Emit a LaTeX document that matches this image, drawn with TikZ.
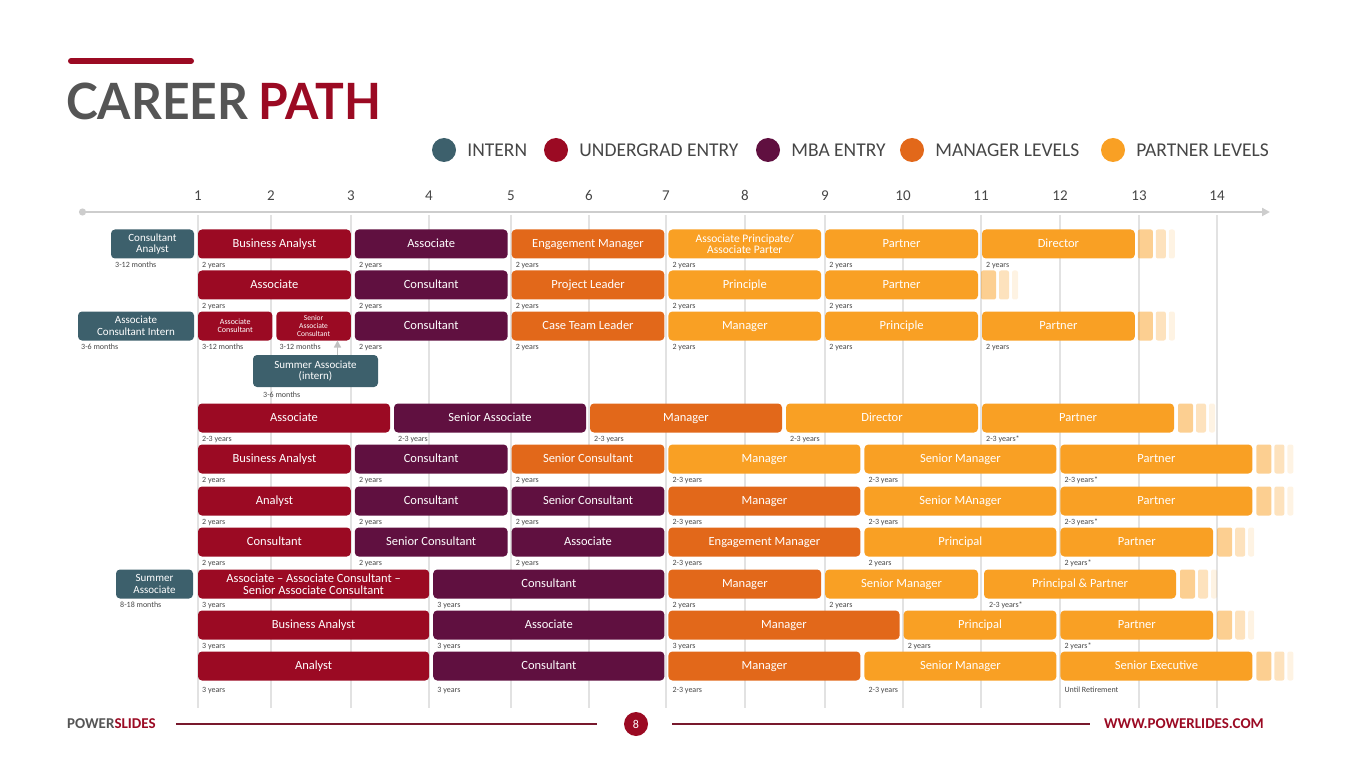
\documentclass[tikz,border=0pt]{standalone}
\usepackage{fontspec}
\setmainfont{Carlito}
\newfontfamily\titlefont{Lato}[FakeStretch=0.96]
\usepackage{xcolor}
\usetikzlibrary{positioning,arrows.meta}

\definecolor{internTeal}{RGB}{61,96,108}
\definecolor{ugRed}{RGB}{155,10,35}
\definecolor{mbaPurple}{RGB}{96,16,64}
\definecolor{mgrOrange}{RGB}{226,104,26}
\definecolor{ptnAmber}{RGB}{249,160,36}
\definecolor{gridGray}{RGB}{226,226,226}
\definecolor{axisGray}{RGB}{205,205,205}
\definecolor{textGray}{RGB}{70,70,70}
\definecolor{titleGray}{RGB}{85,85,85}
\definecolor{footRed}{RGB}{120,25,45}

\begin{document}
\begin{tikzpicture}[x=1pt, y=-1pt, font=\fontsize{12.5}{13}\selectfont,
  role/.style={rounded corners=4pt, minimum height=29pt, inner sep=0pt, outer sep=0pt, text=white, align=center, anchor=west, text height=8.5pt, text depth=1pt},
  multi/.style={text height={}, text depth={}},
  ug/.style={role, fill=ugRed}, mba/.style={role, fill=mbaPurple},
  mgr/.style={role, fill=mgrOrange}, ptn/.style={role, fill=ptnAmber},
  itn/.style={role, multi, fill=internTeal, font=\fontsize{11}{11.5}\selectfont},
  one/.style={minimum width=74.4pt}, two/.style={minimum width=152.8pt},
  twohalf/.style={minimum width=192pt}, three/.style={minimum width=231.2pt},
  dur/.style={font=\fontsize{8}{8}\selectfont, text=textGray, inner sep=0pt, text height=6pt, text depth=1.5pt},
  fadeA/.style={fill=ptnAmber, fill opacity=.5, minimum width=15pt, minimum height=29pt, inner sep=0pt, outer sep=0pt, rounded corners=2pt},
  fadeB/.style={fadeA, fill opacity=.3, minimum width=10pt},
  fadeC/.style={fadeA, fill opacity=.13, minimum width=6pt},
  dot/.style={circle, minimum size=24pt, inner sep=0pt},
  legend/.style={font=\fontsize{19.5}{19.5}\selectfont, text=textGray, inner sep=0pt, anchor=west},
  year/.style={font=\fontsize{15}{15}\selectfont, text=textGray, inner sep=0pt, text height=10.5pt, text depth=0pt},
  grid/.style={gridGray, line width=1.6pt},
  footline/.style={footRed, line width=1.2pt}]

\useasboundingbox (0,0) rectangle (1365,767);

% title
\draw[ugRed, line width=6pt, line cap=round] (71,61) -- (191,61);
\node[anchor=base west, inner sep=0pt] (title) at (66,120) {\titlefont\bfseries\fontsize{50}{50}\selectfont\textcolor{titleGray}{CAREER}\hspace{10pt}\textcolor{ugRed}{PATH}};

% legend
\node[dot, fill=internTeal] (lg1) at (444,150) {};
\node[legend, right=11pt of lg1] (lt1) {INTERN};
\node[dot, fill=ugRed] (lg2) at (556,150) {};
\node[legend, right=11pt of lg2] (lt2) {UNDERGRAD ENTRY};
\node[dot, fill=mbaPurple] (lg3) at (768,150) {};
\node[legend, right=11pt of lg3] (lt3) {MBA ENTRY};
\node[dot, fill=mgrOrange] (lg4) at (912,150) {};
\node[legend, right=11pt of lg4] (lt4) {MANAGER LEVELS};
\node[dot, fill=ptnAmber] (lg5) at (1113,150) {};
\node[legend, right=11pt of lg5] (lt5) {PARTNER LEVELS};

% years axis and grid
\foreach \n/\x in {1/198,2/271,3/351,4/429,5/511,6/589,7/666,8/745,9/825,10/903,11/981,12/1060,13/1139,14/1217}{
  \draw[grid] (\x,215) -- (\x,708);
  \node[year] (yr\n) at (\x,195) {\n};
}
\draw[axisGray, line width=2pt, {Circle[length=7pt]}-{Triangle[length=8pt,width=8pt]}] (79,212) -- (1270,212);

% row 1
\node[ug, two] (r1a) at (198,244) {Business Analyst};
\node[mba, two, right=4pt of r1a] (r1b) {Associate};
\node[mgr, two, right=4pt of r1b] (r1c) {Engagement Manager};
\node[ptn, multi, two, right=4pt of r1c, font=\fontsize{11.5}{11}\selectfont] (r1d) {Associate Principate/\\Associate Parter};
\node[ptn, two, right=4pt of r1d] (r1e) {Partner};
\node[ptn, two, right=4pt of r1e] (r1f) {Director};
\node[fadeA, right=3pt of r1f] (s1a) {};
\node[fadeB, right=3pt of s1a] (s1b) {};
\node[fadeC, right=3pt of s1b] (s1c) {};
\node[itn, minimum width=83pt, left=4pt of r1a] (i1) {Consultant\\Analyst};
\node[dur, below right=3pt and 4pt of i1.south west] (di1) {3-12 months};
\node[dur, below right=3pt and 4pt of r1a.south west] (d1a) {2 years};
\node[dur, below right=3pt and 4pt of r1b.south west] (d1b) {2 years};
\node[dur, below right=3pt and 4pt of r1c.south west] (d1c) {2 years};
\node[dur, below right=3pt and 4pt of r1d.south west] (d1d) {2 years};
\node[dur, below right=3pt and 4pt of r1e.south west] (d1e) {2 years};
\node[dur, below right=3pt and 4pt of r1f.south west] (d1f) {2 years};

% row 2
\node[ug, two] (r2a) at (198,285) {Associate};
\node[mba, two, right=4pt of r2a] (r2b) {Consultant};
\node[mgr, two, right=4pt of r2b] (r2c) {Project Leader};
\node[ptn, two, right=4pt of r2c] (r2d) {Principle};
\node[ptn, two, right=4pt of r2d] (r2e) {Partner};
\node[fadeA, right=3pt of r2e] (s2a) {};
\node[fadeB, right=3pt of s2a] (s2b) {};
\node[fadeC, right=3pt of s2b] (s2c) {};
\node[dur, below right=3pt and 4pt of r2a.south west] (d2a) {2 years};
\node[dur, below right=3pt and 4pt of r2b.south west] (d2b) {2 years};
\node[dur, below right=3pt and 4pt of r2c.south west] (d2c) {2 years};
\node[dur, below right=3pt and 4pt of r2d.south west] (d2d) {2 years};
\node[dur, below right=3pt and 4pt of r2e.south west] (d2e) {2 years};

% row 3
\node[ug, multi, one, font=\fontsize{8}{8.5}\selectfont] (r3a) at (198,326) {Associate\\Consultant};
\node[ug, multi, one, right=4pt of r3a, font=\fontsize{7.5}{8}\selectfont] (r3b) {Senior\\Associate\\Consultant};
\node[mba, two, right=4pt of r3b] (r3c) {Consultant};
\node[mgr, two, right=4pt of r3c] (r3d) {Case Team Leader};
\node[ptn, two, right=4pt of r3d] (r3e) {Manager};
\node[ptn, two, right=4pt of r3e] (r3f) {Principle};
\node[ptn, two, right=4pt of r3f] (r3g) {Partner};
\node[fadeA, right=3pt of r3g] (s3a) {};
\node[fadeB, right=3pt of s3a] (s3b) {};
\node[fadeC, right=3pt of s3b] (s3c) {};
\node[itn, minimum width=116pt, left=4pt of r3a] (i3) {Associate\\Consultant Intern};
\node[dur, below right=3pt and 3pt of i3.south west] (di3) {3-6 months};
\node[dur, below right=3pt and 4pt of r3a.south west] (d3a) {3-12 months};
\node[dur, below right=3pt and 3pt of r3b.south west] (d3b) {3-12 months};
\node[dur, below right=3pt and 4pt of r3c.south west] (d3c) {2 years};
\node[dur, below right=3pt and 4pt of r3d.south west] (d3d) {2 years};
\node[dur, below right=3pt and 4pt of r3e.south west] (d3e) {2 years};
\node[dur, below right=3pt and 4pt of r3f.south west] (d3f) {2 years};
\node[dur, below right=3pt and 4pt of r3g.south west] (d3g) {2 years};

% summer associate (intern)
\node[itn, minimum width=125pt, minimum height=32pt, anchor=center] (sa) at (315.5,371) {Summer Associate\\(intern)};
\node[dur, below right=4pt and 10pt of sa.south west] (dsa) {3-6 months};
\draw[axisGray!85!gray, line width=1.5pt, -{Triangle[length=7pt,width=7pt]}] ([xshift=22pt]sa.north) -- ([xshift=22pt]sa.north |- r3b.south);

% row 5
\node[ug, twohalf] (r5a) at (198,418) {Associate};
\node[mba, twohalf, right=4pt of r5a] (r5b) {Senior Associate};
\node[mgr, twohalf, right=4pt of r5b] (r5c) {Manager};
\node[ptn, twohalf, right=4pt of r5c] (r5d) {Director};
\node[ptn, twohalf, right=4pt of r5d] (r5e) {Partner};
\node[fadeA, right=4pt of r5e] (s5a) {};
\node[fadeB, right=3pt of s5a] (s5b) {};
\node[fadeC, right=3pt of s5b] (s5c) {};
\node[dur, below right=3pt and 4pt of r5a.south west] (d5a) {2-3 years};
\node[dur, below right=3pt and 4pt of r5b.south west] (d5b) {2-3 years};
\node[dur, below right=3pt and 4pt of r5c.south west] (d5c) {2-3 years};
\node[dur, below right=3pt and 4pt of r5d.south west] (d5d) {2-3 years};
\node[dur, below right=3pt and 4pt of r5e.south west] (d5e) {2-3 years*};

% row 6
\node[ug, two] (r6a) at (198,459) {Business Analyst};
\node[mba, two, right=4pt of r6a] (r6b) {Consultant};
\node[mgr, two, right=4pt of r6b] (r6c) {Senior Consultant};
\node[ptn, twohalf, right=4pt of r6c] (r6d) {Manager};
\node[ptn, twohalf, right=4pt of r6d] (r6e) {Senior Manager};
\node[ptn, twohalf, right=4pt of r6e] (r6f) {Partner};
\node[fadeA, right=4pt of r6f] (s6a) {};
\node[fadeB, right=3pt of s6a] (s6b) {};
\node[fadeC, right=3pt of s6b] (s6c) {};
\node[dur, below right=3pt and 4pt of r6a.south west] (d6a) {2 years};
\node[dur, below right=3pt and 4pt of r6b.south west] (d6b) {2 years};
\node[dur, below right=3pt and 4pt of r6c.south west] (d6c) {2 years};
\node[dur, below right=3pt and 4pt of r6d.south west] (d6d) {2-3 years};
\node[dur, below right=3pt and 4pt of r6e.south west] (d6e) {2-3 years};
\node[dur, below right=3pt and 4pt of r6f.south west] (d6f) {2-3 years*};

% row 7
\node[ug, two] (r7a) at (198,501) {Analyst};
\node[mba, two, right=4pt of r7a] (r7b) {Consultant};
\node[mba, two, right=4pt of r7b] (r7c) {Senior Consultant};
\node[mgr, twohalf, right=4pt of r7c] (r7d) {Manager};
\node[ptn, twohalf, right=4pt of r7d] (r7e) {Senior MAnager};
\node[ptn, twohalf, right=4pt of r7e] (r7f) {Partner};
\node[fadeA, right=4pt of r7f] (s7a) {};
\node[fadeB, right=3pt of s7a] (s7b) {};
\node[fadeC, right=3pt of s7b] (s7c) {};
\node[dur, below right=3pt and 4pt of r7a.south west] (d7a) {2 years};
\node[dur, below right=3pt and 4pt of r7b.south west] (d7b) {2 years};
\node[dur, below right=3pt and 4pt of r7c.south west] (d7c) {2 years};
\node[dur, below right=3pt and 4pt of r7d.south west] (d7d) {2-3 years};
\node[dur, below right=3pt and 4pt of r7e.south west] (d7e) {2-3 years};
\node[dur, below right=3pt and 4pt of r7f.south west] (d7f) {2-3 years*};

% row 8
\node[ug, two] (r8a) at (198,542) {Consultant};
\node[mba, two, right=4pt of r8a] (r8b) {Senior Consultant};
\node[mba, two, right=4pt of r8b] (r8c) {Associate};
\node[mgr, twohalf, right=4pt of r8c] (r8d) {Engagement Manager};
\node[ptn, twohalf, right=4pt of r8d] (r8e) {Principal};
\node[ptn, two, right=4pt of r8e] (r8f) {Partner};
\node[fadeA, right=4pt of r8f] (s8a) {};
\node[fadeB, right=3pt of s8a] (s8b) {};
\node[fadeC, right=3pt of s8b] (s8c) {};
\node[dur, below right=3pt and 4pt of r8a.south west] (d8a) {2 years};
\node[dur, below right=3pt and 4pt of r8b.south west] (d8b) {2 years};
\node[dur, below right=3pt and 4pt of r8c.south west] (d8c) {2 years};
\node[dur, below right=3pt and 4pt of r8d.south west] (d8d) {2-3 years};
\node[dur, below right=3pt and 4pt of r8e.south west] (d8e) {2 years};
\node[dur, below right=3pt and 4pt of r8f.south west] (d8f) {2 years*};

% row 9
\node[ug, multi, three, font=\fontsize{12.5}{12}\selectfont] (r9a) at (198,584) {Associate -- Associate Consultant --\\Senior Associate Consultant};
\node[mba, three, right=4pt of r9a] (r9b) {Consultant};
\node[mgr, two, right=4pt of r9b] (r9c) {Manager};
\node[ptn, two, right=4pt of r9c] (r9d) {Senior Manager};
\node[ptn, twohalf, right=6pt of r9d] (r9e) {Principal \& Partner};
\node[fadeA, right=4pt of r9e] (s9a) {};
\node[fadeB, right=3pt of s9a] (s9b) {};
\node[fadeC, right=3pt of s9b] (s9c) {};
\node[itn, minimum width=77pt, left=5pt of r9a] (i9) {Summer\\Associate};
\node[dur, below right=3pt and 4pt of i9.south west] (di9) {8-18 months};
\node[dur, below right=3pt and 4pt of r9a.south west] (d9a) {3 years};
\node[dur, below right=3pt and 4pt of r9b.south west] (d9b) {3 years};
\node[dur, below right=3pt and 4pt of r9c.south west] (d9c) {2 years};
\node[dur, below right=3pt and 4pt of r9d.south west] (d9d) {2 years};
\node[dur, below right=3pt and 5pt of r9e.south west] (d9e) {2-3 years*};

% row 10
\node[ug, three] (r10a) at (198,625) {Business Analyst};
\node[mba, three, right=4pt of r10a] (r10b) {Associate};
\node[mgr, three, right=4pt of r10b] (r10c) {Manager};
\node[ptn, two, right=4pt of r10c] (r10d) {Principal};
\node[ptn, two, right=4pt of r10d] (r10e) {Partner};
\node[fadeA, right=4pt of r10e] (s10a) {};
\node[fadeB, right=3pt of s10a] (s10b) {};
\node[fadeC, right=3pt of s10b] (s10c) {};
\node[dur, below right=3pt and 4pt of r10a.south west] (d10a) {3 years};
\node[dur, below right=3pt and 4pt of r10b.south west] (d10b) {3 years};
\node[dur, below right=3pt and 4pt of r10c.south west] (d10c) {3 years};
\node[dur, below right=3pt and 4pt of r10d.south west] (d10d) {2 years};
\node[dur, below right=3pt and 4pt of r10e.south west] (d10e) {2 years*};

% row 11
\node[ug, three] (r11a) at (198,666) {Analyst};
\node[mba, three, right=4pt of r11a] (r11b) {Consultant};
\node[mgr, twohalf, right=4pt of r11b] (r11c) {Manager};
\node[ptn, twohalf, right=4pt of r11c] (r11d) {Senior Manager};
\node[ptn, twohalf, right=4pt of r11d] (r11e) {Senior Executive};
\node[fadeA, right=4pt of r11e] (s11a) {};
\node[fadeB, right=3pt of s11a] (s11b) {};
\node[fadeC, right=3pt of s11b] (s11c) {};
\node[dur, below right=6pt and 4pt of r11a.south west] (d11a) {3 years};
\node[dur, below right=6pt and 4pt of r11b.south west] (d11b) {3 years};
\node[dur, below right=6pt and 4pt of r11c.south west] (d11c) {2-3 years};
\node[dur, below right=6pt and 4pt of r11d.south west] (d11d) {2-3 years};
\node[dur, below right=6pt and 4pt of r11e.south west] (d11e) {Until Retirement};

% footer
\node[anchor=west, inner sep=0pt, font=\fontsize{15}{15}\selectfont\bfseries] (brand) at (67,724) {\textcolor{titleGray}{POWER}\textcolor{ugRed}{SLIDES}};
\node[circle, fill=ugRed, minimum size=24pt, inner sep=0pt, text=white, font=\fontsize{12}{12}\selectfont] (page) at (636,724) {8};
\node[anchor=east, inner sep=0pt, text=ugRed, font=\fontsize{15}{15}\selectfont\bfseries] (url) at (1264,724) {WWW.POWERLIDES.COM};
\draw[footline] ([xshift=20pt]brand.east) -- ([xshift=-27pt]page.west);
\draw[footline] ([xshift=24pt]page.east) -- ([xshift=-14pt]url.west);
\end{tikzpicture}
\end{document}
